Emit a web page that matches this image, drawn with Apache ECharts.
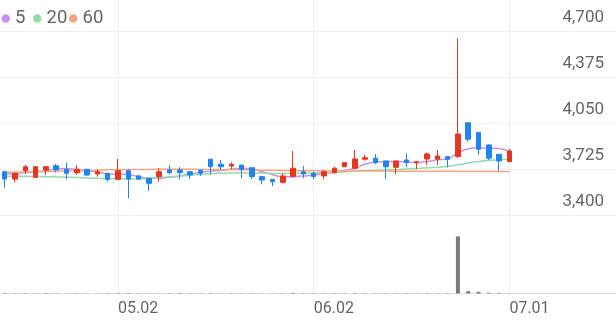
<!DOCTYPE html>
<html>
<head>
<meta charset="utf-8">
<script src="https://cdn.jsdelivr.net/npm/echarts@6/dist/echarts.min.js"></script>
<style>
html,body{margin:0;padding:0;background:#fff;}
#c{width:616px;height:321px;}
</style>
</head>
<body>
<div id="c"></div>
<script>
const dates = ['04.16','04.17','04.18','04.21','04.22','04.23','04.24','04.25','04.28','04.29','04.30',
'05.02','05.07','05.08','05.09','05.12','05.13','05.14','05.15','05.16','05.19','05.20','05.21','05.22','05.23','05.26','05.27','05.28','05.29','05.30',
'06.02','06.04','06.05','06.09','06.10','06.11','06.12','06.13','06.16','06.17','06.18','06.19','06.20','06.23','06.24','06.25','06.26','06.27','06.30','07.01'];
const labelDates = ['05.02','06.02','07.01'];
const open  = [3706,3654,3713,3666,3718,3748,3723,3699,3723,3690,3695,3652,3713,3676,3659,3671,3718,3718,3706,3716,3794,3758,3746,3753,3734,3671,3652,3631,3671,3706,3695,3676,3699,3741,3730,3794,3801,3782,3737,3789,3770,3796,3794,3812,3812,4052,3982,3895,3829,3777];
const close = [3654,3695,3741,3741,3741,3718,3695,3723,3683,3706,3652,3713,3654,3654,3624,3706,3699,3699,3683,3695,3741,3741,3758,3723,3671,3647,3635,3676,3730,3690,3671,3706,3730,3770,3796,3805,3770,3741,3782,3770,3777,3831,3817,3794,3972,3935,3864,3801,3782,3852];
const low   = [3593,3630,3690,3660,3681,3700,3652,3683,3676,3671,3635,3647,3518,3647,3570,3635,3688,3652,3654,3676,3688,3725,3725,3659,3654,3617,3605,3624,3666,3659,3652,3654,3695,3741,3725,3784,3760,3654,3690,3737,3725,3753,3753,3737,3805,3918,3824,3789,3711,3775];
const high  = [3710,3700,3753,3745,3745,3760,3772,3753,3725,3723,3700,3796,3723,3681,3659,3730,3753,3737,3706,3723,3794,3789,3772,3753,3734,3671,3652,3695,3852,3746,3706,3718,3741,3770,3859,3824,3831,3782,3782,3836,3777,3840,3859,3812,4648,4055,3985,3900,3831,3866];
const ma5  = [3695,3690,3700,3705,3712,3725,3728,3720,3712,3705,3690,3690,3685,3672,3660,3660,3668,3676,3690,3700,3710,3715,3725,3730,3725,3705,3685,3670,3672,3675,3682,3695,3700,3715,3730,3760,3775,3778,3778,3775,3770,3778,3790,3798,3838,3868,3875,3872,3870,3848];
const ma20 = [3676,3674,3673,3672,3671,3669,3667,3665,3662,3659,3656,3655,3654,3656,3660,3665,3670,3675,3680,3686,3692,3695,3697,3698,3697,3696,3694,3693,3694,3695,3697,3699,3702,3705,3710,3714,3717,3719,3721,3725,3729,3733,3738,3743,3755,3768,3778,3786,3791,3796];
const ma60 = [3702,3703,3704,3705,3707,3709,3711,3713,3715,3717,3719,3720,3721,3722,3722,3723,3723,3723,3723,3722,3722,3721,3720,3719,3718,3717,3716,3715,3714,3713,3712,3712,3711,3711,3710,3710,3710,3710,3709,3709,3709,3709,3709,3709,3708,3708,3708,3708,3708,3708];
const volume = [22000,15000,18000,12000,20000,15000,10000,14000,12000,9000,18000,20000,25000,15000,12000,10000,18000,22000,15000,14000,20000,12000,16000,14000,12000,10000,12000,15000,30000,18000,14000,12000,16000,15000,20000,18000,14000,15000,12000,16000,14000,18000,15000,20000,2700000,108000,80000,35000,30000,12000];
const yTickLabels = ['3,400','3,725','4,050','4,375','4,700'];
const maNames = ['5', '20', '60'];
const priceMin = 3400, priceMax = 4700;

const UP = '#e8351f', DOWN = '#1e85f1';
const C5 = '#cc90ee', C20 = '#93dba8', C60 = '#f7a67f';
const FONT = 'Roboto, "Noto Sans", sans-serif';

const candleData = open.map((o, i) => [o, close[i], low[i], high[i]]);
const chart = echarts.init(document.getElementById('c'), null, {renderer: 'canvas'});
const L = 4.7, R = 106.6;
const legendLefts = [1.5, 33, 69];
chart.setOption({
  animation: false,
  backgroundColor: '#fff',
  legend: maNames.map((n, k) => ({
    data: [n], left: legendLefts[k], top: 9, icon: 'circle', padding: 0,
    itemWidth: 8.5, itemHeight: 8.5,
    textStyle: {fontSize: 18.5, color: '#666', fontFamily: FONT}
  })),
  grid: [
    {left: L, right: R, top: 31, height: 184},
    {left: L, right: R, top: 230, bottom: 27.5},
    {left: 0, right: 0, top: 31, height: 184},
    {left: L, right: R, top: 0, bottom: 27.5},
    {left: 3, right: 0, top: 292.5, height: 1}
  ],
  xAxis: [
    {type: 'category', gridIndex: 0, data: dates, boundaryGap: false, show: false},
    {type: 'category', gridIndex: 1, data: dates, boundaryGap: false, show: false},
    {type: 'value', gridIndex: 2, min: 0, max: 1, show: false},
    {type: 'category', gridIndex: 3, data: dates, boundaryGap: false,
      axisLine: {show: false}, axisTick: {show: false},
      axisLabel: {interval: (i, v) => labelDates.includes(v), align: 'left', margin: 7,
        fontSize: 16, color: '#666', fontFamily: FONT, showMaxLabel: true},
      splitLine: {show: true, interval: (i, v) => labelDates.includes(v), lineStyle: {color: '#efefef', width: 1}}},
    {type: 'value', gridIndex: 4, min: 0, max: 1, axisLine: {show: true, lineStyle: {color: '#e0e0e0', width: 1}},
      axisTick: {show: false}, axisLabel: {show: false}, splitLine: {show: false}}
  ],
  yAxis: [
    {type: 'value', gridIndex: 0, min: priceMin, max: priceMax, show: false},
    {type: 'value', gridIndex: 1, min: 0, max: 3000000, show: false},
    {type: 'value', gridIndex: 2, min: 0, max: yTickLabels.length - 1, interval: 1, position: 'right',
      axisLine: {show: false}, axisTick: {show: false},
      axisLabel: {inside: true, formatter: v => yTickLabels[v], fontSize: 17, color: '#666', fontFamily: FONT,
        margin: 12, verticalAlign: 'bottom', padding: [0, 0, 5, 0]},
      splitLine: {show: true, lineStyle: {color: '#efefef', width: 1}}},
    {type: 'value', gridIndex: 3, show: false},
    {type: 'value', gridIndex: 4, show: false}
  ],
  series: [
    {name: '5', type: 'line', xAxisIndex: 0, yAxisIndex: 0, data: ma5, smooth: true, symbol: 'none',
      color: C5, lineStyle: {width: 1.5, color: C5}, z: 2},
    {name: '20', type: 'line', xAxisIndex: 0, yAxisIndex: 0, data: ma20, smooth: true, symbol: 'none',
      color: C20, lineStyle: {width: 1.5, color: C20}, z: 2},
    {name: '60', type: 'line', xAxisIndex: 0, yAxisIndex: 0, data: ma60, smooth: true, symbol: 'none',
      color: C60, lineStyle: {width: 1.5, color: C60}, z: 2},
    {type: 'candlestick', xAxisIndex: 0, yAxisIndex: 0, data: candleData, barWidth: 5, clip: false, z: 3,
      itemStyle: {color: UP, color0: DOWN, borderColor: UP, borderColor0: DOWN, borderWidth: 1}},
    {type: 'bar', xAxisIndex: 1, yAxisIndex: 1, data: volume, barWidth: 4, itemStyle: {color: '#7b7b7b'}}
  ]
});
</script>
</body>
</html>
